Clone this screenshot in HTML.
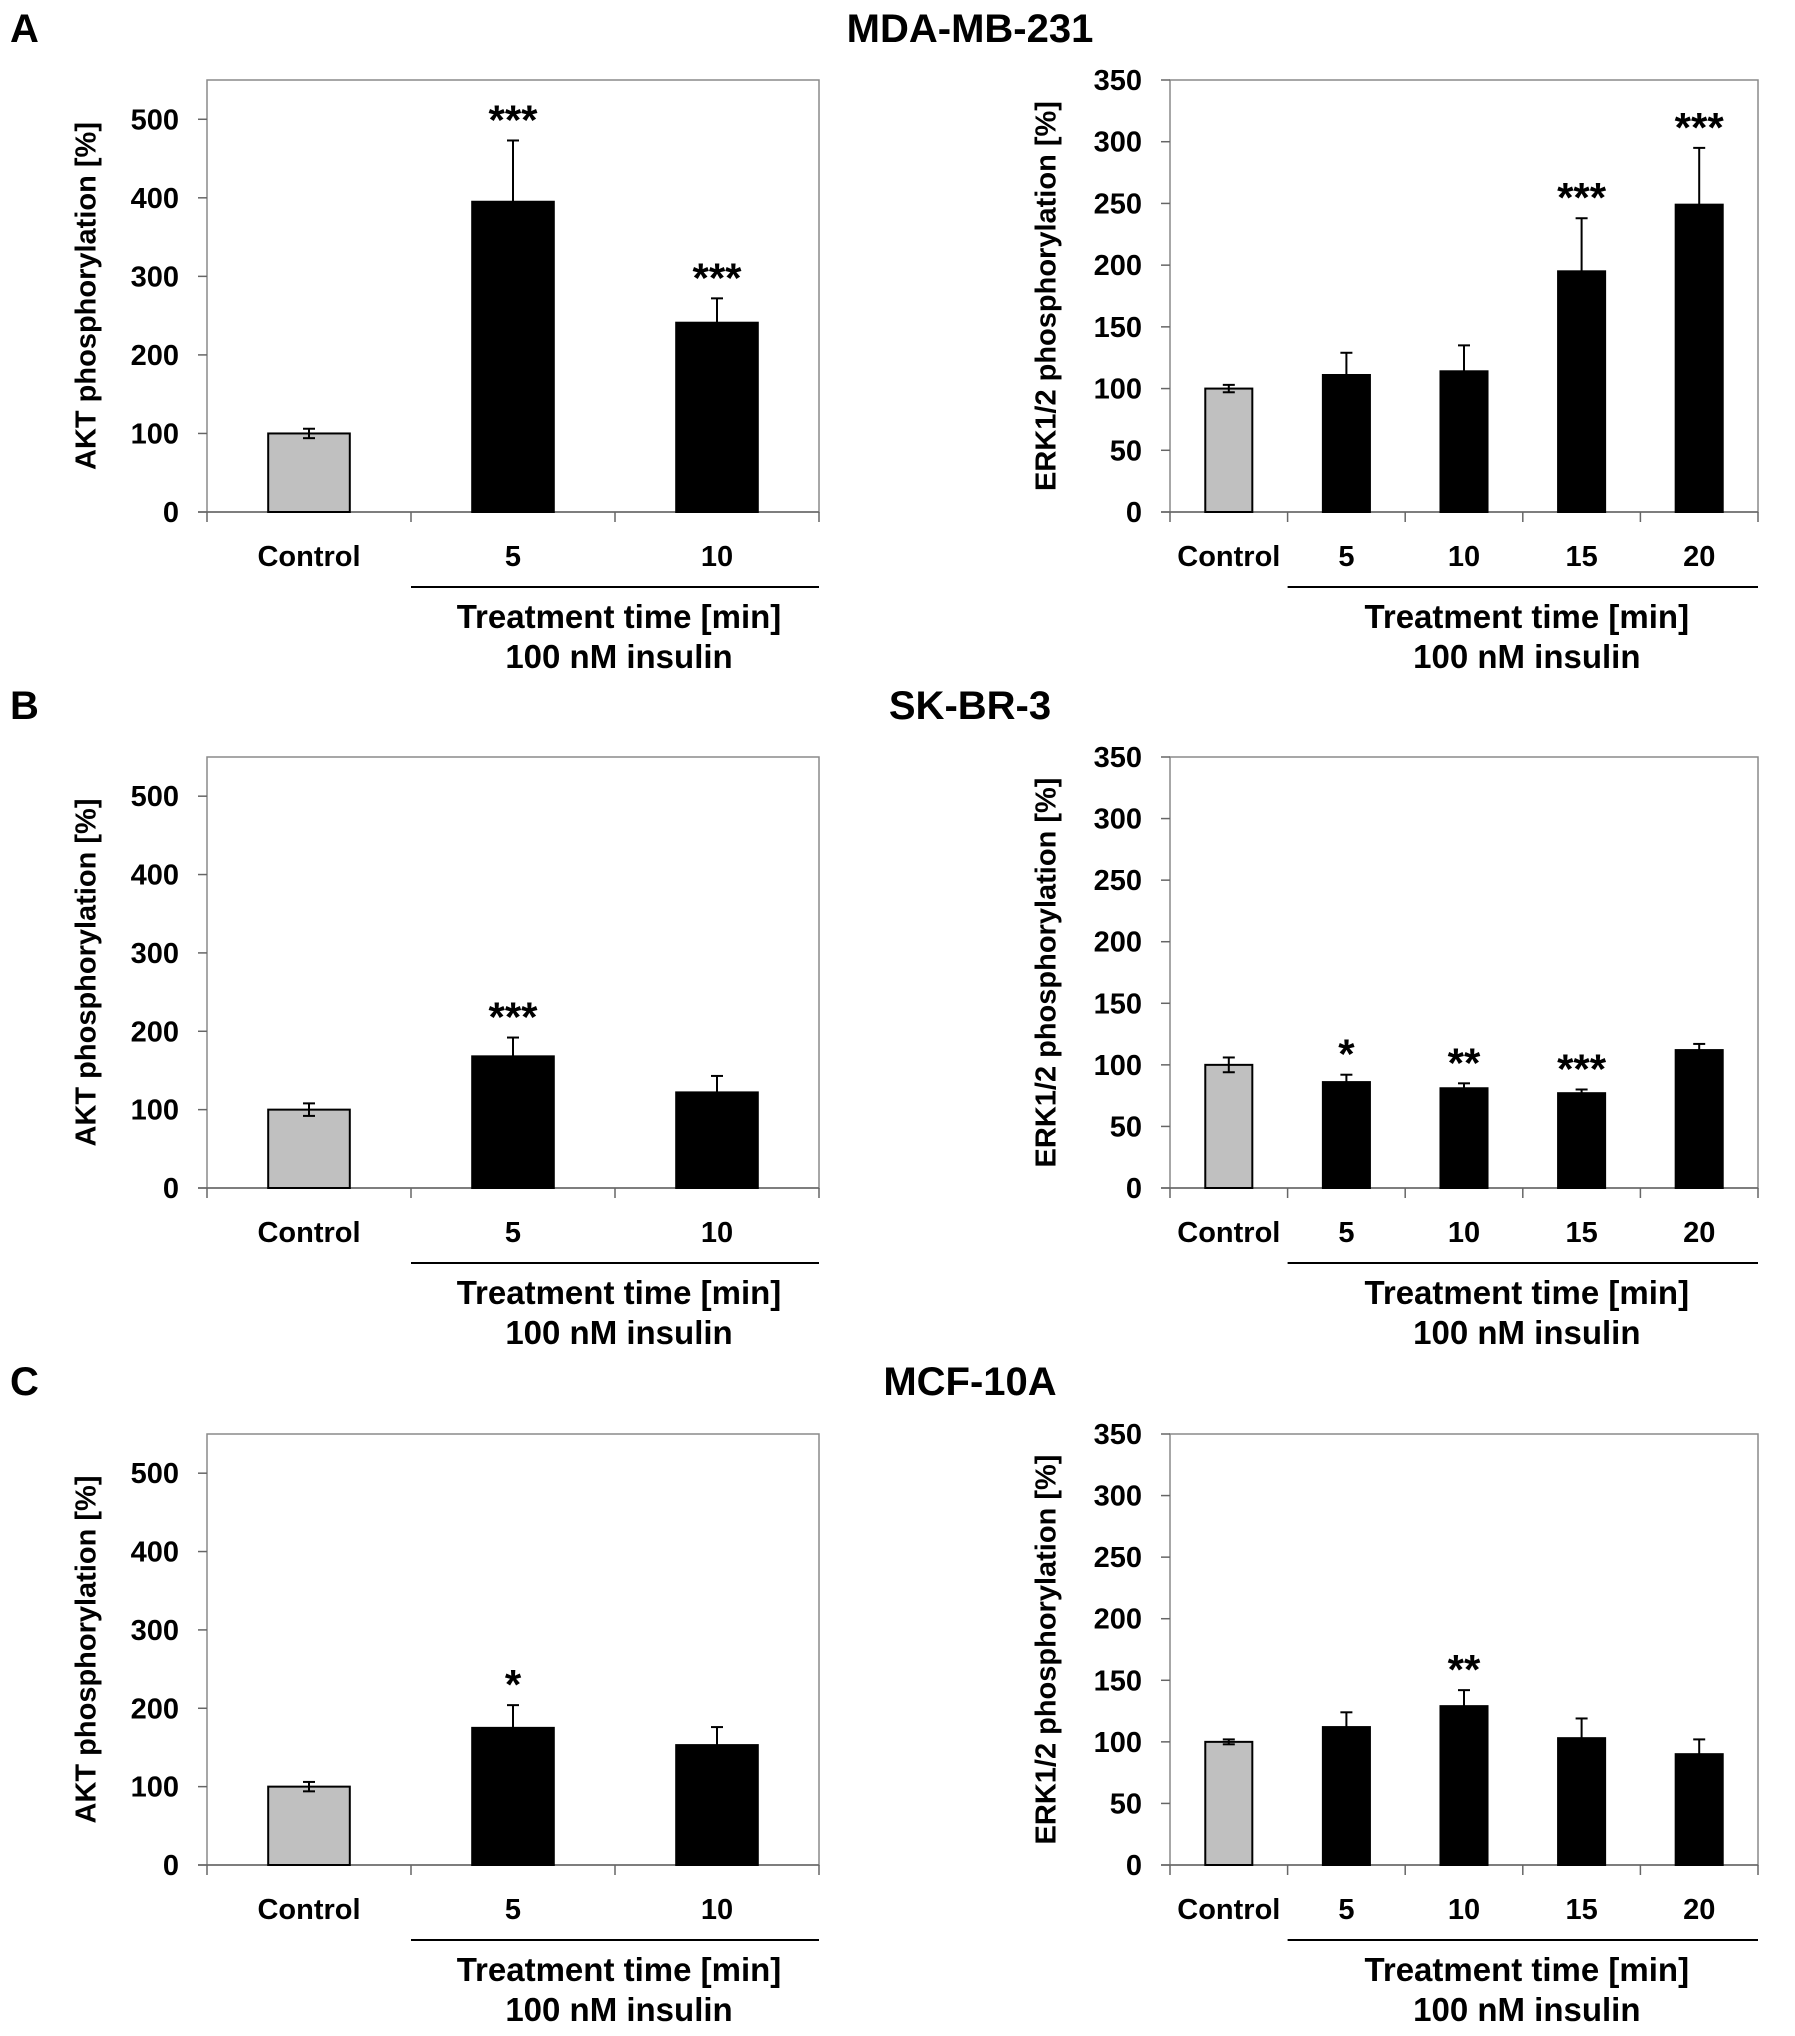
<!DOCTYPE html>
<html><head><meta charset="utf-8">
<style>
html,body{margin:0;padding:0;background:#fff;}
svg{display:block;font-family:"Liberation Sans",Arial,sans-serif;font-weight:bold;}
</style></head>
<body>
<svg id="fig" width="1795" height="2036" viewBox="0 0 1795 2036" xmlns="http://www.w3.org/2000/svg">
<text x="10" y="42" font-size="40">A</text>
<text x="970" y="42" font-size="40" text-anchor="middle">MDA-MB-231</text>
<text x="10" y="719" font-size="40">B</text>
<text x="970" y="719" font-size="40" text-anchor="middle">SK-BR-3</text>
<text x="10" y="1395" font-size="40">C</text>
<text x="970" y="1395" font-size="40" text-anchor="middle">MCF-10A</text>
</svg>
<script>
const aktCats = ["Control","5","10"];
const erkCats = ["Control","5","10","15","20"];
const aktTicks = [0,100,200,300,400,500];
const erkTicks = [0,50,100,150,200,250,300,350];
const aktA = [100,395,241];
const aktAErr = [6,78,31];
const aktAStars = ["","***","***"];
const erkA = [100,111,114,195,249];
const erkAErr = [3,18,21,43,46];
const erkAStars = ["","","","***","***"];
const aktB = [100,168,122];
const aktBErr = [8,24,21];
const aktBStars = ["","***",""];
const erkB = [100,86,81,77,112];
const erkBErr = [6,6,4,3,5];
const erkBStars = ["","*","**","***",""];
const aktC = [100,175,153];
const aktCErr = [6,29,23];
const aktCStars = ["","*",""];
const erkC = [100,112,129,103,90];
const erkCErr = [2,12,13,16,12];
const erkCStars = ["","","**","",""];

const NS = "http://www.w3.org/2000/svg";
const svg = document.getElementById("fig");
function mk(tag, attrs, parent){
  const e = document.createElementNS(NS, tag);
  for (const k in attrs) e.setAttribute(k, attrs[k]);
  (parent||svg).appendChild(e);
  return e;
}
function chart(id, x0, x1, top, zero, ymax, ticks, cats, vals, errs, stars, ytitle, titleX){
  const g = mk("g", {});
  
  
  const y = v => zero - (v/ymax)*(zero-top);
  const cw = (x1-x0)/cats.length;
  const bw = cw*0.4;
  const box = mk("rect", {x:x0, y:top, width:x1-x0, height:zero-top, fill:"none", stroke:"#8a8a8a", "stroke-width":1.5}, g);
  
  
  ticks.forEach(t => {
    const yy = y(t);
    mk("line", {x1:x0-9, x2:x0, y1:yy, y2:yy, stroke:"#666", "stroke-width":1.5}, g);
    const tl = mk("text", {x:x0-28, y:yy+10, "font-size":29, "text-anchor":"end"}, g);
    tl.textContent = t;
    
    
  });
  for (let i=0;i<=cats.length;i++){
    const xx = x0 + i*cw;
    mk("line", {x1:xx, x2:xx, y1:zero, y2:zero+10, stroke:"#666", "stroke-width":1.5}, g);
  }
  mk("line", {x1:x0-9, x2:x1, y1:zero, y2:zero, stroke:"#666", "stroke-width":1.5}, g);
  cats.forEach((c,i) => {
    const cx = x0 + (i+0.5)*cw;
    const v = vals[i], e = errs[i];
    const ctrl = i===0;
    const b = mk("rect", {x:cx-bw/2, y:y(v), width:bw, height:zero-y(v), fill: ctrl?"#c0c0c0":"#000", stroke:"#000", "stroke-width":2}, g);
    
    
    const lo = ctrl ? y(v-e) : y(v);
    mk("line", {x1:cx, x2:cx, y1:y(v+e), y2:lo, stroke:"#000", "stroke-width":2}, g);
    mk("line", {x1:cx-6, x2:cx+6, y1:y(v+e), y2:y(v+e), stroke:"#000", "stroke-width":2}, g);
    if (ctrl) mk("line", {x1:cx-6, x2:cx+6, y1:lo, y2:lo, stroke:"#000", "stroke-width":2}, g);
    if (stars[i]){
      const s = mk("text", {x:cx, y:y(v+e)-6, "font-size":42, "text-anchor":"middle"}, g);
      s.textContent = stars[i];
      
      
    }
    const xl = mk("text", {x:cx, y:zero+54, "font-size":29, "text-anchor":"middle"}, g);
    xl.textContent = c;
    
    
  });
  mk("line", {x1:x0+cw, x2:x1, y1:zero+75, y2:zero+75, stroke:"#000", "stroke-width":2}, g);
  const mid = (x0+cw+x1)/2 + 4;
  const t1 = mk("text", {x:mid, y:zero+116, "font-size":33, "text-anchor":"middle"}, g);
  t1.textContent = "Treatment time [min]";
  
  
  const t2 = mk("text", {x:mid, y:zero+156, "font-size":33, "text-anchor":"middle"}, g);
  t2.textContent = "100 nM insulin";
  
  
  const yc = (top+zero)/2;
  const yt = mk("text", {x:titleX, y:yc, "font-size":29, "text-anchor":"middle", transform:`rotate(-90 ${titleX} ${yc})`, "dominant-baseline":"middle"}, g);
  yt.textContent = ytitle;
  
  
}
const rows = [[80,512],[757,1188],[1434,1865]];
chart("akt-chart-a",207,819,rows[0][0],rows[0][1],550,aktTicks,aktCats,aktA,aktAErr,aktAStars,"AKT phosphorylation [%]",88);
chart("erk-chart-a",1170,1758,rows[0][0],rows[0][1],350,erkTicks,erkCats,erkA,erkAErr,erkAStars,"ERK1/2 phosphorylation [%]",1048);
chart("akt-chart-b",207,819,rows[1][0],rows[1][1],550,aktTicks,aktCats,aktB,aktBErr,aktBStars,"AKT phosphorylation [%]",88);
chart("erk-chart-b",1170,1758,rows[1][0],rows[1][1],350,erkTicks,erkCats,erkB,erkBErr,erkBStars,"ERK1/2 phosphorylation [%]",1048);
chart("akt-chart-c",207,819,rows[2][0],rows[2][1],550,aktTicks,aktCats,aktC,aktCErr,aktCStars,"AKT phosphorylation [%]",88);
chart("erk-chart-c",1170,1758,rows[2][0],rows[2][1],350,erkTicks,erkCats,erkC,erkCErr,erkCStars,"ERK1/2 phosphorylation [%]",1048);
</script>
</body></html>
